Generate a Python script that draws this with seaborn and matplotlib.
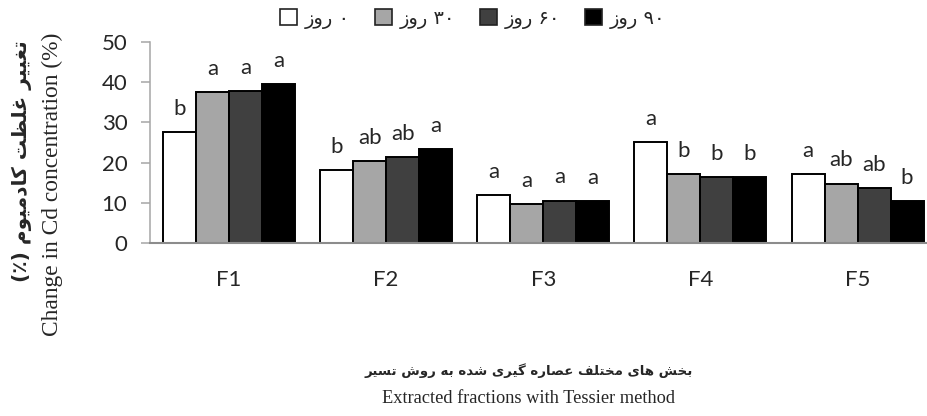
import matplotlib
matplotlib.use("Agg")
import matplotlib.pyplot as plt
from matplotlib.patches import Patch
import seaborn as sns
import pandas as pd

# ---------------- data ----------------
fractions = ["F1", "F2", "F3", "F4", "F5"]
days = ["۰ روز", "۳۰ روز", "۶۰ روز", "۹۰ روز"]
day0 = [27.5, 18.1, 11.9, 25.1, 17.1]
day30 = [37.5, 20.4, 9.7, 17.2, 14.8]
day60 = [37.7, 21.3, 10.6, 16.4, 13.7]
day90 = [39.5, 23.3, 10.4, 16.4, 10.5]
letters0 = ["b", "b", "a", "a", "a"]
letters30 = ["a", "ab", "a", "b", "ab"]
letters60 = ["a", "ab", "a", "b", "ab"]
letters90 = ["a", "a", "a", "b", "b"]
yticks = [0, 10, 20, 30, 40, 50]
ylabel_fa = "تغییر غلظت کادمیوم (٪)"
ylabel_en = "Change in Cd concentration (%)"
xlabel_fa = "بخش های مختلف عصاره گیری شده به روش تسیر"
xlabel_en = "Extracted fractions with Tessier method"

colors = ["#ffffff", "#a6a6a6", "#404040", "#000000"]

# ------------- minimal Persian shaping (presentation forms + visual order) -------------
FORMS = {  # isolated, final, initial, medial
    "ا": ("\uFE8D", "\uFE8E", None, None),
    "ب": ("\uFE8F", "\uFE90", "\uFE91", "\uFE92"),
    "ت": ("\uFE95", "\uFE96", "\uFE97", "\uFE98"),
    "خ": ("\uFEA5", "\uFEA6", "\uFEA7", "\uFEA8"),
    "د": ("\uFEA9", "\uFEAA", None, None),
    "ر": ("\uFEAD", "\uFEAE", None, None),
    "ز": ("\uFEAF", "\uFEB0", None, None),
    "س": ("\uFEB1", "\uFEB2", "\uFEB3", "\uFEB4"),
    "ش": ("\uFEB5", "\uFEB6", "\uFEB7", "\uFEB8"),
    "ص": ("\uFEB9", "\uFEBA", "\uFEBB", "\uFEBC"),
    "ظ": ("\uFEC5", "\uFEC6", "\uFEC7", "\uFEC8"),
    "ع": ("\uFEC9", "\uFECA", "\uFECB", "\uFECC"),
    "غ": ("\uFECD", "\uFECE", "\uFECF", "\uFED0"),
    "ف": ("\uFED1", "\uFED2", "\uFED3", "\uFED4"),
    "ل": ("\uFEDD", "\uFEDE", "\uFEDF", "\uFEE0"),
    "م": ("\uFEE1", "\uFEE2", "\uFEE3", "\uFEE4"),
    "ه": ("\uFEE9", "\uFEEA", "\uFEEB", "\uFEEC"),
    "و": ("\uFEED", "\uFEEE", None, None),
    "ی": ("\uFBFC", "\uFBFD", "\uFBFE", "\uFBFF"),
    "ک": ("\uFB8E", "\uFB8F", "\uFB90", "\uFB91"),
    "گ": ("\uFB92", "\uFB93", "\uFB94", "\uFB95"),
}
MIRROR = {"(": ")", ")": "("}


def shape_word(w):
    out = []
    for i, ch in enumerate(w):
        if ch not in FORMS:
            out.append(ch)
            continue
        prev = w[i - 1] if i > 0 else None
        nxt = w[i + 1] if i + 1 < len(w) else None
        join_prev = prev in FORMS and FORMS[prev][2] is not None
        join_next = nxt in FORMS and FORMS[ch][2] is not None
        iso, fin, ini, med = FORMS[ch]
        if join_prev and join_next:
            out.append(med)
        elif join_prev:
            out.append(fin)
        elif join_next:
            out.append(ini)
        else:
            out.append(iso)
    return "".join(out)


def rtl(text):
    words = text.split(" ")
    vis = []
    for w in reversed(words):
        if any(c in FORMS for c in w):
            vis.append("".join(MIRROR.get(c, c) for c in reversed(shape_word(w))))
        else:
            vis.append("".join(MIRROR.get(c, c) for c in w[::-1]) if any(c in "()" for c in w) else w)
    return " ".join(vis)


# ---------------- frame ----------------
df = pd.DataFrame({
    "fraction": fractions * 4,
    "day": [d for d in days for _ in fractions],
    "value": day0 + day30 + day60 + day90,
})

sns.set_theme(style="white")
plt.rcParams["font.family"] = ["Lato", "DejaVu Sans"]

fig = plt.figure(figsize=(9.27, 4.16), dpi=100)
ax = fig.add_axes([0.1622, 0.4151, 0.8476, 0.4847])

sns.barplot(data=df, x="fraction", y="value", hue="day", hue_order=days,
            order=fractions, palette=colors, width=0.84, gap=0,
            edgecolor="black", linewidth=1.4, saturation=1, legend=False,
            errorbar=None, ax=ax)

ax.set_ylim(0, 50)
ax.set_xlim(-0.5, 4.5)
ax.set_yticks(yticks)
ax.set_yticklabels([str(t) for t in yticks], fontsize=16)
ax.set_xticks(range(len(fractions)))
ax.set_xticklabels(fractions, fontsize=16)
ax.tick_params(axis="x", length=0, pad=19)
ax.tick_params(axis="y", length=6.5, width=1.1, color="#a6a6a6", pad=10, direction="out", left=True)
for s in ["top", "right"]:
    ax.spines[s].set_visible(False)
ax.spines["left"].set_color("#a6a6a6")
ax.spines["left"].set_linewidth(1.1)
ax.spines["bottom"].set_color("#8c8c8c")
ax.spines["bottom"].set_linewidth(1.5)
ax.set_xlabel("")
ax.set_ylabel("")

# letters above bars
all_letters = [letters0, letters30, letters60, letters90]
for ci, cont in enumerate(ax.containers):
    for bar, lab in zip(cont, all_letters[ci]):
        ax.annotate(lab, (bar.get_x() + bar.get_width() / 2, bar.get_height()),
                    xytext=(0, 9.5), textcoords="offset points",
                    ha="center", va="bottom", fontsize=16, annotation_clip=False)

# legend
handles = [Patch(facecolor=c, edgecolor="#222222", linewidth=1.2) for c in colors]
leg = fig.legend(handles, [rtl(d) for d in days], loc="center", ncol=4,
                 bbox_to_anchor=(0.51, 0.955), frameon=False,
                 prop={"family": "DejaVu Sans", "size": 14},
                 handlelength=0.85, handleheight=0.85, handletextpad=0.4,
                 columnspacing=1.3)

# y labels (Persian bold + English serif)
fig.text(0.024, 0.613, rtl(ylabel_fa), rotation=90, ha="center", va="center",
         fontsize=14.5, fontweight="bold", family="DejaVu Sans")
fig.text(0.057, 0.558, ylabel_en, rotation=90, ha="center", va="center",
         fontsize=16.8, family="Liberation Serif")

# x labels
fig.text(0.57, 0.108, rtl(xlabel_fa), ha="center", va="center",
         fontsize=9.6, fontweight="bold", family="DejaVu Sans")
fig.text(0.57, 0.043, xlabel_en, ha="center", va="center",
         fontsize=13.2, family="Liberation Serif")

fig.savefig("out.png", dpi=100)
